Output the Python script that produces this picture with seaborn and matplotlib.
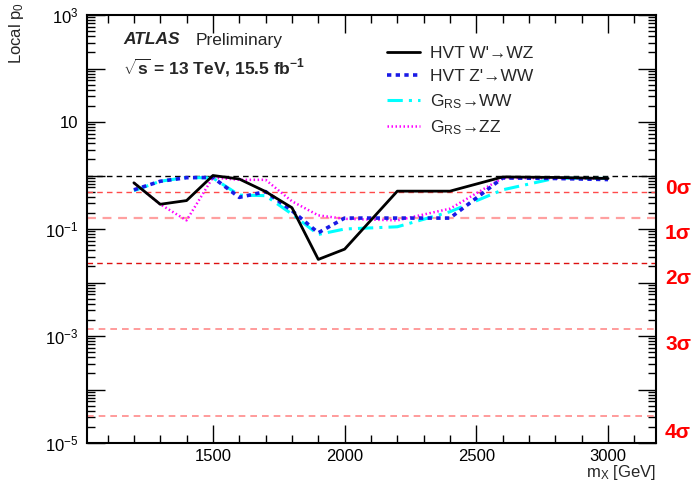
import numpy as np
import pandas as pd
import matplotlib
matplotlib.use("Agg")
import matplotlib.pyplot as plt
import seaborn as sns
from matplotlib.ticker import LogLocator, FixedLocator, FuncFormatter, NullFormatter, MultipleLocator

sns.set_theme(style="ticks")
plt.rcParams['font.family'] = ['Liberation Sans', 'DejaVu Sans']
plt.rcParams['mathtext.fontset'] = 'custom'
plt.rcParams['mathtext.rm'] = 'Liberation Sans'
plt.rcParams['mathtext.it'] = 'Liberation Sans:italic'
plt.rcParams['mathtext.bf'] = 'Liberation Sans:bold'

# ---- data ----
mass_wz = [1200, 1300, 1400, 1500, 1600, 1700, 1800, 1900, 2000, 2200, 2400, 2600, 2800, 3000]
p0_wz   = [0.73, 0.29, 0.34, 1.00, 0.86, 0.50, 0.25, 0.027, 0.042, 0.51, 0.51, 0.94, 0.92, 0.88]

mass_zww = [1200, 1300, 1400, 1500, 1600, 1700, 1800, 1900, 2000, 2200, 2400, 2600, 2800, 3000]
p0_zww   = [0.54, 0.78, 0.91, 0.92, 0.39, 0.50, 0.22, 0.085, 0.16, 0.16, 0.16, 0.90, 0.88, 0.84]

mass_gww = [1200, 1300, 1400, 1500, 1600, 1700, 1800, 1900, 2000, 2200, 2400, 2600, 2800, 3000]
p0_gww   = [0.52, 0.78, 0.92, 0.90, 0.43, 0.42, 0.19, 0.079, 0.10, 0.11, 0.21, 0.54, 0.89, 0.88]

mass_gzz = [1200, 1300, 1400, 1500, 1600, 1700, 1800, 1900, 2000, 2200, 2400, 2600, 2800, 3000]
p0_gzz   = [0.73, 0.29, 0.145, 0.92, 0.83, 0.83, 0.33, 0.18, 0.155, 0.145, 0.24, 0.90, 0.89, 0.88]

sigma_labels = ["0σ", "1σ", "2σ", "3σ", "4σ"]
sigma_pvals = [0.5, 0.1587, 0.02275, 0.00135, 3.17e-5]
sigma_colors = ["#ff4a4a", "#ffa0a0", "#dd1010", "#ff8a8a", "#ff8a8a"]

series_labels = ["HVT W'→WZ", "HVT Z'→WW", r"G$_{\mathregular{RS}}$→WW", r"G$_{\mathregular{RS}}$→ZZ"]

# ---- figure ----
fig = plt.figure(figsize=(6.95, 4.82), dpi=100)
ax = fig.add_axes([87/695, 1-443/482, (656-87)/695, (443-15)/482])

xmin, xmax = 1022, 3182
ax.set_xlim(xmin, xmax)
ax.set_yscale('log')
ax.set_ylim(1e-5, 1e3)

# reference lines
ax.axhline(1.0, color='black', lw=1.0, ls=(0, (4, 3)), zorder=1)
for pv, col, lw in zip(sigma_pvals, sigma_colors, [1.0, 1.6, 1.0, 1.2, 1.2]):
    ax.axhline(pv, color=col, lw=lw, ls=(0, (4, 3)), zorder=1)

sns.lineplot(data=pd.DataFrame({'m': mass_wz, 'p': p0_wz}), x='m', y='p', ax=ax,
             color='black', lw=2.0, label=series_labels[0], zorder=5)
sns.lineplot(data=pd.DataFrame({'m': mass_zww, 'p': p0_zww}), x='m', y='p', ax=ax,
             color='#1a1ae6', lw=2.6, ls=(0, (1.2, 1.2)), label=series_labels[1], zorder=4)
sns.lineplot(data=pd.DataFrame({'m': mass_gww, 'p': p0_gww}), x='m', y='p', ax=ax,
             color='#00ffff', lw=2.2, ls=(0, (5, 2, 1, 2)), label=series_labels[2], zorder=3)
sns.lineplot(data=pd.DataFrame({'m': mass_gzz, 'p': p0_gzz}), x='m', y='p', ax=ax,
             color='#ff00ff', lw=1.8, ls=(0, (0.6, 1.0)), label=series_labels[3], zorder=3)

# ticks
ax.yaxis.set_major_locator(LogLocator(base=10, numticks=20))
def yfmt(v, pos):
    e = int(round(np.log10(v)))
    if e % 2 == 0:
        return ""
    if e == 1:
        return "10"
    return r"10$^{\mathregular{%d}}$" % e
ax.yaxis.set_major_formatter(FuncFormatter(yfmt))
ax.yaxis.set_minor_locator(LogLocator(base=10, subs=np.arange(2, 10), numticks=50))
ax.yaxis.set_minor_formatter(NullFormatter())
ax.xaxis.set_major_locator(FixedLocator([1500, 2000, 2500, 3000]))
ax.xaxis.set_minor_locator(MultipleLocator(100))

ax.tick_params(which='both', direction='in', top=True, right=True, color='black', width=1.0)
ax.tick_params(which='major', length=13, labelsize=12, colors='black')
ax.tick_params(axis='x', which='major', pad=4)
ax.tick_params(axis='y', which='major', pad=6)
ax.tick_params(which='minor', length=6)
for sp in ax.spines.values():
    sp.set_visible(True)
    sp.set_color('black')
    sp.set_linewidth(1.5)

ax.set_xlabel("")
ax.set_ylabel("")
fig.text(656/695, 1-473/482, r"m$_{\mathregular{X}}$ [GeV]", ha='right', va='center', fontsize=12)
fig.text(17/695, 1-2/482, r"Local p$_{\mathregular{0}}$", rotation=90, ha='center', va='top', fontsize=12)

# ATLAS label
fig.text(123/695, 1-40/482, "ATLAS", fontsize=12.5, fontweight='bold', fontstyle='italic', va='center')
fig.text(196/695, 1-40/482, "Preliminary", fontsize=12.5, va='center')
fig.text(123/695, 1-68/482, r"$\sqrt{\mathregular{s}}$ = 13 TeV, 15.5 fb$^{\mathregular{-1}}$",
         fontsize=12.5, fontweight='bold', va='center')

# sigma labels
for lab, ypix in zip(sigma_labels, [189, 233, 278, 344, 432]):
    fig.text(665/695, 1-ypix/482, lab, color='#ff0000', fontsize=15, fontweight='bold',
             va='center', ha='left')

leg = ax.legend(loc='upper left', bbox_to_anchor=((380-87)/569, 1-24/428), frameon=False,
                fontsize=12.5, handlelength=1.9, labelspacing=0.45, handletextpad=0.6,
                borderaxespad=0)

fig.savefig("out.png", dpi=100)
